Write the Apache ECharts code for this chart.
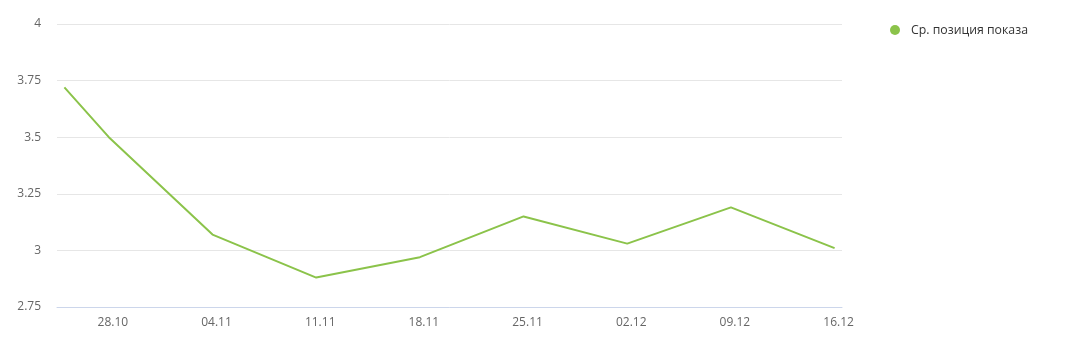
<!DOCTYPE html>
<html>
<head>
<meta charset="utf-8">
<script src="https://cdn.jsdelivr.net/npm/echarts@6/dist/echarts.min.js"></script>
<style>
html,body{margin:0;padding:0;background:#fff;}
#chart{width:1071px;height:348px;}
</style>
</head>
<body>
<div id="chart"></div>
<script>
var seriesName = 'Ср. позиция показа';
var dates = ['2019-10-25','2019-10-28','2019-11-04','2019-11-11','2019-11-18','2019-11-25','2019-12-02','2019-12-09','2019-12-16'];
var values = [3.72, 3.50, 3.07, 2.88, 2.97, 3.15, 3.03, 3.19, 3.01];
var tickDates = ['2019-10-28','2019-11-04','2019-11-11','2019-11-18','2019-11-25','2019-12-02','2019-12-09','2019-12-16'];
var yTicks = [2.75, 3, 3.25, 3.5, 3.75, 4];

function ts(s){ var p = s.split('-'); return Date.UTC(+p[0], +p[1]-1, +p[2]); }
function fmt(v){ var d = new Date(v); var dd = d.getUTCDate(), mm = d.getUTCMonth()+1;
  return (dd<10?'0':'')+dd+'.'+(mm<10?'0':'')+mm; }
var DAY = 86400000;
var data = dates.map(function(d,i){ return [ts(d), values[i]]; });

var chart = echarts.init(document.getElementById('chart'), null, {renderer:'canvas'});
chart.setOption({
  animation:false,
  grid:{left:57, right:229, top:24, bottom:41, containLabel:false},
  legend:{
    data:[{name:seriesName, icon:'circle'}],
    left:885, top:19, itemWidth:10, itemHeight:10, itemGap:6,
    textStyle:{color:'#333', fontSize:12.3, fontFamily:'Open Sans', padding:[0,0,0,6]}
  },
  xAxis:{
    type:'value',
    min: ts(dates[0]) - 0.5*DAY,
    max: ts(dates[dates.length-1]) + 0.5*DAY,
    splitLine:{show:false},
    axisLine:{show:true, lineStyle:{color:'#ccd6eb', width:1}},
    axisTick:{show:false, customValues: tickDates.map(ts)},
    axisLabel:{
      customValues: tickDates.map(ts),
      formatter: fmt, color:'#666', fontSize:12, fontFamily:'Open Sans',
      margin:10, padding:[0,0,0,8]
    }
  },
  yAxis:{
    type:'value', min:yTicks[0], max:yTicks[yTicks.length-1], interval:0.25,
    axisLine:{show:false}, axisTick:{show:false},
    splitLine:{lineStyle:{color:'#e6e6e6', width:1}},
    axisLabel:{color:'#666', fontSize:12, fontFamily:'Open Sans', margin:16}
  },
  series:[{
    name:seriesName, type:'line', data:data,
    showSymbol:false, symbol:'circle',
    lineStyle:{color:'#8bc34a', width:2},
    itemStyle:{color:'#8bc34a'}
  }]
});
</script>
</body>
</html>
